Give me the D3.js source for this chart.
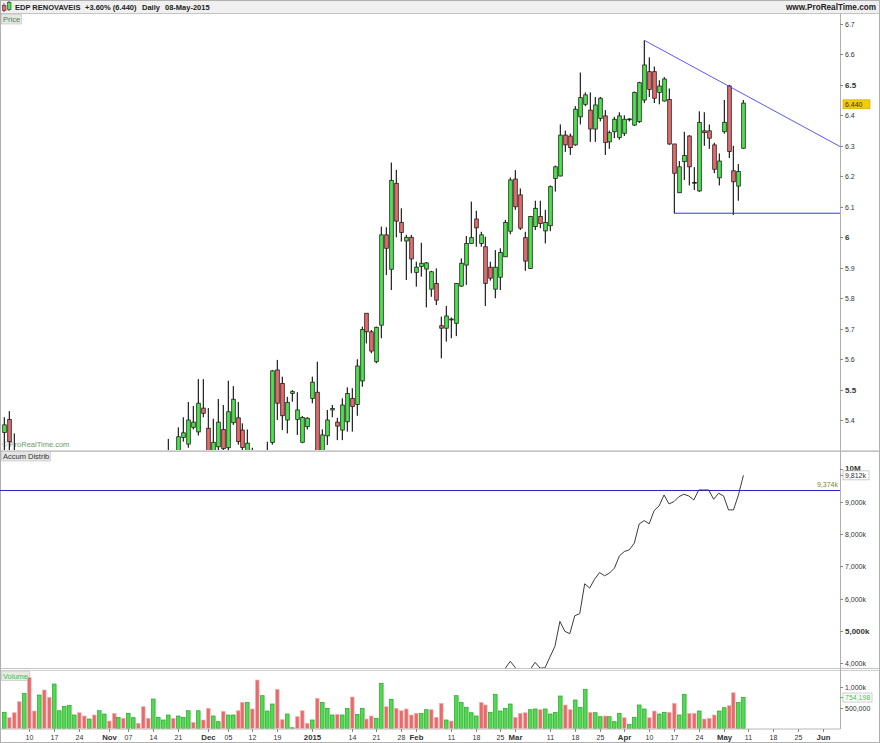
<!DOCTYPE html>
<html><head><meta charset="utf-8">
<script src="https://cdn.jsdelivr.net/npm/d3@7"></script>
<style>body{margin:0;background:#fff}svg{display:block;font-family:"Liberation Sans",Arial,sans-serif}</style>
</head><body><svg id="c" width="880" height="743"></svg>
<script>
// ---------- DATA ----------
const holidays = ["2014-12-25","2014-12-26","2015-01-01","2015-04-03","2015-04-06","2015-05-01"];
const firstDay = "2014-10-03", axisLastDay = "2015-06-05";

const open = [5.36,5.403,5.30,5.27,5.21,5.24,5.16,5.12,5.21,5.15,5.08,5.18,5.20,5.22,5.25,5.27,5.24,5.22,5.25,5.23,
5.26,5.28,5.24,5.21,5.23,5.20,5.22,5.24,5.23,5.18,5.16,5.22,5.24,5.25,5.29,5.27,5.344,5.322,5.377,5.362,
5.44,5.374,5.30,5.313,5.37,5.31,5.392,5.408,5.368,5.30,5.30,5.28,5.20,5.25,5.327,5.565,5.521,5.401,5.488,5.403,
5.328,5.379,5.472,5.492,5.29,5.349,5.434,5.394,5.368,5.395,5.472,5.452,5.529,5.751,5.69,5.592,5.712,6.008,5.895,6.177,
6.049,5.988,6.0,5.885,5.904,5.896,5.83,5.849,5.71,5.702,5.729,5.718,5.84,5.909,5.98,6.06,5.98,5.969,5.902,5.83,
5.869,5.936,6.02,6.191,6.139,5.999,5.898,6.035,6.068,6.021,6.038,6.193,6.201,6.335,6.332,6.303,6.395,6.436,6.417,6.355,
6.39,6.398,6.313,6.346,6.327,6.341,6.388,6.368,6.379,6.45,6.543,6.543,6.475,6.447,6.452,6.306,6.146,6.248,6.332,6.18,
6.152,6.349,6.349,6.303,6.195,6.346,6.496,6.218,6.168,6.292];
const high = [5.41,5.43,5.357,5.28,5.28,5.26,5.19,5.22,5.23,5.17,5.19,5.22,5.25,5.27,5.29,5.28,5.26,5.27,5.26,5.27,
5.29,5.29,5.25,5.25,5.24,5.24,5.26,5.25,5.24,5.20,5.23,5.26,5.28,5.339,5.295,5.377,5.41,5.46,5.447,5.535,
5.535,5.44,5.405,5.47,5.45,5.53,5.512,5.46,5.39,5.37,5.31,5.29,5.28,5.33,5.565,5.598,5.543,5.477,5.499,5.492,
5.414,5.41,5.543,5.592,5.37,5.434,5.45,5.408,5.472,5.508,5.505,5.60,5.707,5.751,5.696,5.707,6.035,6.033,6.245,6.221,
6.095,6.008,6.008,5.92,5.982,5.919,5.89,5.898,5.74,5.775,5.737,5.85,5.931,6.004,6.117,6.087,6.018,6.002,5.92,5.958,
5.964,6.057,6.196,6.22,6.16,6.018,6.07,6.12,6.12,6.09,6.17,6.235,6.37,6.35,6.34,6.43,6.54,6.475,6.475,6.46,
6.46,6.417,6.35,6.395,6.41,6.40,6.39,6.478,6.51,6.646,6.59,6.56,6.515,6.525,6.488,6.306,6.25,6.346,6.335,6.23,
6.413,6.41,6.37,6.31,6.275,6.45,6.50,6.30,6.24,6.45];
const low = [5.30,5.30,5.25,5.20,5.18,5.10,5.08,5.10,5.12,5.06,5.05,5.15,5.18,5.20,5.23,5.22,5.20,5.21,5.21,5.22,
5.24,5.22,5.19,5.20,5.18,5.19,5.21,5.21,5.16,5.14,5.15,5.21,5.23,5.24,5.25,5.26,5.33,5.31,5.37,5.35,
5.41,5.28,5.28,5.30,5.29,5.30,5.385,5.32,5.29,5.28,5.26,5.18,5.19,5.24,5.32,5.401,5.368,5.357,5.461,5.352,
5.325,5.37,5.456,5.26,5.27,5.319,5.41,5.335,5.335,5.363,5.363,5.415,5.51,5.652,5.62,5.587,5.669,5.876,5.827,6.0,
5.986,5.86,5.882,5.838,5.871,5.77,5.805,5.778,5.603,5.658,5.669,5.676,5.838,5.844,5.978,5.969,5.969,5.775,5.858,5.80,
5.827,5.936,6.01,6.09,6.024,5.89,5.896,6.024,6.03,5.98,6.02,6.15,6.20,6.28,6.27,6.30,6.37,6.43,6.313,6.313,
6.38,6.27,6.29,6.325,6.32,6.332,6.38,6.365,6.375,6.44,6.46,6.44,6.436,6.445,6.303,6.079,6.145,6.188,6.17,6.155,
6.149,6.30,6.29,6.21,6.17,6.34,6.26,6.073,6.12,6.29];
const close = [5.385,5.33,5.28,5.22,5.26,5.15,5.12,5.20,5.14,5.10,5.18,5.20,5.23,5.25,5.27,5.24,5.22,5.25,5.23,5.26,
5.28,5.24,5.21,5.23,5.20,5.22,5.24,5.23,5.18,5.16,5.22,5.24,5.26,5.29,5.27,5.346,5.359,5.401,5.394,5.456,
5.423,5.30,5.328,5.394,5.307,5.428,5.469,5.33,5.311,5.325,5.29,5.20,5.25,5.29,5.562,5.456,5.415,5.459,5.494,5.434,
5.409,5.407,5.525,5.28,5.352,5.401,5.439,5.381,5.45,5.488,5.445,5.578,5.698,5.69,5.627,5.705,6.008,5.964,6.186,6.053,
6.016,6.0,5.929,5.902,5.915,5.916,5.887,5.794,5.702,5.742,5.732,5.849,5.915,5.98,5.999,6.031,6.008,5.849,5.866,5.902,
5.95,6.049,6.188,6.10,6.03,5.922,6.068,6.095,6.045,6.049,6.166,6.231,6.335,6.303,6.294,6.42,6.458,6.467,6.355,6.434,
6.456,6.311,6.343,6.387,6.398,6.387,6.388,6.475,6.507,6.565,6.485,6.456,6.496,6.519,6.306,6.21,6.231,6.268,6.231,6.18,
6.377,6.343,6.325,6.223,6.25,6.377,6.281,6.182,6.216,6.44];
// volume in thousands of shares
const volume = [396,265,386,653,857,1245,427,815,937,760,1082,434,541,565,330,386,306,233,330,434,
354,184,371,274,250,371,265,129,532,250,718,274,209,330,250,306,274,434,153,434,
209,493,306,168,419,330,330,434,638,638,476,1180,799,427,597,954,217,354,20,289,
434,129,209,735,638,493,330,347,330,493,767,347,493,233,306,250,1099,532,711,493,
434,476,330,371,371,459,459,274,614,209,184,799,638,517,386,306,638,573,396,833,
427,493,597,274,371,386,459,476,459,476,354,396,791,573,459,694,509,954,396,386,
289,306,289,168,371,265,105,274,573,476,265,427,354,396,396,614,330,833,371,371,
427,233,250,330,427,507,556,871,638,754.198];
// accumulation / distribution (thousands)
const accum = [2650,2600,2560,2480,2560,2400,2330,2450,2380,2300,2480,2520,2580,2620,2680,2640,2600,2650,2620,2680,
2720,2660,2610,2650,2600,2640,2680,2660,2560,2520,2640,2680,2720,2760,2730,2800,2830,2880,2860,2930,
2900,2800,2840,2900,2820,2910,2960,2870,2800,2850,2810,2600,2720,2800,2990,2860,2800,2860,2870,2800,
2780,2760,2850,2640,2720,2790,2830,2780,2850,2920,2860,3000,3120,3080,3010,3090,3400,3320,3520,3380,
3340,3300,3220,3240,3270,3340,3300,3200,3180,3240,3220,3420,3520,3600,3610,3660,3640,3450,3520,3640,
3720,3850,4062,3870,3750,3650,3800,4031,3850,3860,4197,4525,5296,4988,4917,5472,5534,6460,6327,6600,
6809,6707,6790,6944,7324,7457,7509,7716,8312,8414,8312,8722,8867,9207,8929,9000,9154,9228,9176,9052,
9361,9361,9361,9074,9259,9176,8744,8744,9207,9812];
const accumRef = 9374;
const lastClose = 6.440, lastAccum = 9812, lastVolume = 754198;

const priceTicks = [6.7,6.6,6.5,6.4,6.3,6.2,6.1,6.0,5.9,5.8,5.7,5.6,5.5,5.4];
const priceTickLabels = ["6.7","6.6","6.5","6.4","6.3","6.2","6.1","6","5.9","5.8","5.7","5.6","5.5","5.4"];
const accumTicks = [10000,9000,8000,7000,6000,5000,4000];
const accumTickLabels = ["10M","9,000k","8,000k","7,000k","6,000k","5,000k","4,000k"];
const volTicks = [1000,500];
const volTickLabels = ["1,000k","500,000"];
const tickDates = ["2014-10-10","2014-10-17","2014-10-24","2014-11-03","2014-11-07","2014-11-14","2014-11-21","2014-12-01","2014-12-05","2014-12-12","2014-12-19","2015-01-02","2015-01-14","2015-01-21","2015-01-28","2015-02-02","2015-02-11","2015-02-18","2015-02-25","2015-03-02","2015-03-11","2015-03-18","2015-03-25","2015-04-01","2015-04-10","2015-04-17","2015-04-24","2015-05-04","2015-05-11","2015-05-18","2015-05-25","2015-06-01"];
const tickLabels = ["10","17","24","Nov","07","14","21","Dec","05","12","19","2015","14","21","28","Feb","11","18","25","Mar","11","18","25","Apr","10","17","24","May","11","18","25","Jun"];
// drawn lines (anchored on bars)
const resistance = [{i:129,p:6.646},{i:146,p:6.496}];
const support = {i:135,p:6.079};

// ---------- BUILD ----------
function tradingDays(start,end,hol){
  const out=[]; const d=new Date(start+"T12:00:00Z"); const e=new Date(end+"T12:00:00Z");
  while(d<=e){const wd=d.getUTCDay();const s=d.toISOString().slice(0,10);
    if(wd!==0&&wd!==6&&!hol.includes(s)) out.push(s); d.setUTCDate(d.getUTCDate()+1);}
  return out;
}
const days = tradingDays(firstDay, axisLastDay, holidays);
const bars = close.map((c,i)=>({i,date:days[i],o:open[i],h:high[i],l:low[i],c,v:volume[i],a:accum[i],
  up: i===0 ? c>=open[i] : c>=close[i-1]}));

const W=880,H=743, plotR=840;
const x = d3.scaleLinear().domain([0,149]).range([4.4,743.4]);
const yP = d3.scaleLinear().domain([5.4,6.7]).range([420.3,23.8]);
const yA = d3.scaleLinear().domain([4000,10000]).range([663.3,469.3]);
const yV = d3.scaleLinear().domain([0,1000]).range([728.6,687.4]);

const svg = d3.select("#c");
const defs = svg.append("defs");
function clip(id,y0,y1){defs.append("clipPath").attr("id",id).append("rect").attr("x",0).attr("y",y0).attr("width",plotR).attr("height",y1-y0);}
clip("cp",13.5,450); clip("ca",452.5,668); clip("cv",670.5,728.6);

// background frame
svg.append("rect").attr("x",0).attr("y",0).attr("width",W).attr("height",H).attr("fill","#fff");
svg.append("rect").attr("x",0).attr("y",0).attr("width",W).attr("height",13).attr("fill","#f0f0f0");
svg.append("line").attr("x1",0).attr("x2",W).attr("y1",13.5).attr("y2",13.5).attr("stroke","#c4c4c4");
[[450.5,"#d8d8d8"],[451.5,"#c4c4c4"],[668.5,"#c4c4c4"],[670.5,"#d0d0d0"]].forEach(([yy,c])=>
  svg.append("line").attr("x1",0).attr("x2",W).attr("y1",yy).attr("y2",yy).attr("stroke",c));
svg.append("line").attr("x1",plotR+0.5).attr("x2",plotR+0.5).attr("y1",13.5).attr("y2",729).attr("stroke","#b0b0b0");
svg.append("line").attr("x1",0).attr("x2",plotR).attr("y1",729).attr("y2",729).attr("stroke","#b8b8b8");
svg.append("rect").attr("x",0.5).attr("y",0.5).attr("width",W-1).attr("height",H-1).attr("fill","none").attr("stroke","#b0b0b0");

// header
const hdr = svg.append("g");
hdr.append("line").attr("x1",4).attr("x2",4).attr("y1",3).attr("y2",12).attr("stroke","#555");
hdr.append("rect").attr("x",2.5).attr("y",5.5).attr("width",3.5).attr("height",5).attr("fill","#e86a6a").attr("stroke","#333").attr("stroke-width",0.6);
hdr.append("line").attr("x1",9).attr("x2",9).attr("y1",1).attr("y2",11).attr("stroke","#555");
hdr.append("rect").attr("x",7.5).attr("y",2.5).attr("width",3.5).attr("height",7).attr("fill","#4ee44e").attr("stroke","#333").attr("stroke-width",0.6);
[["EDP RENOVAVEIS",15],["+3.60% (6.440)",85],["Daily",142],["08-May-2015",165]].forEach(([t,xx])=>
  hdr.append("text").attr("x",xx).attr("y",9.5).attr("font-size",7.5).attr("font-weight","bold").attr("fill","#222").text(t));
hdr.append("text").attr("x",876).attr("y",9.5).attr("text-anchor","end").attr("font-size",8.2).attr("font-weight","bold").attr("fill","#222").text("www.ProRealTime.com");

// panel labels
function tag(xx,yy,w,t,fill,col){
  svg.append("rect").attr("x",xx+0.5).attr("y",yy+0.5).attr("width",w).attr("height",9.5).attr("fill",fill).attr("stroke","#c0c0c0").attr("stroke-width",0.6);
  svg.append("text").attr("x",xx+2).attr("y",yy+8).attr("font-size",7.5).attr("fill",col).text(t);
}
tag(1,14,20,"Price","#e2e8e2","#5c7a5c");
tag(1,451,49,"Accum Distrib","#e6e6e6","#333");
tag(1,670.5,28,"Volume","#e4ece4","#44c044");
svg.append("text").attr("x",2).attr("y",447).attr("font-size",7.5).attr("fill","#6a9a6a").text("\u00a9 ProRealTime.com");

// ---------- PRICE ----------
const gP = svg.append("g").attr("clip-path","url(#cp)");
const cg = gP.selectAll("g.c").data(bars).join("g");
cg.append("line").attr("x1",d=>Math.round(x(d.i))-0.5).attr("x2",d=>Math.round(x(d.i))-0.5)
  .attr("y1",d=>yP(d.h)).attr("y2",d=>yP(d.l)).attr("stroke","#c6c6c6").attr("stroke-width",1);
cg.append("line").attr("x1",d=>Math.round(x(d.i))+0.5).attr("x2",d=>Math.round(x(d.i))+0.5)
  .attr("y1",d=>yP(d.h)).attr("y2",d=>yP(d.l)).attr("stroke","#2a2a2a").attr("stroke-width",1);
cg.append("rect").attr("x",d=>Math.round(x(d.i))-1.3).attr("width",3.6)
  .attr("y",d=>yP(Math.max(d.o,d.c))).attr("height",d=>Math.max(0.8,Math.abs(yP(d.o)-yP(d.c))))
  .attr("fill",d=>Math.abs(d.o-d.c)<0.002?"#222":(d.c>=d.o?"#4ee44e":"#e86a6a")).attr("stroke","#1e1e1e").attr("stroke-width",0.8);

// trend lines
const slope = (resistance[1].p-resistance[0].p)/(resistance[1].i-resistance[0].i);
const iEnd = x.invert(plotR);
gP.append("line").attr("x1",x(resistance[0].i)).attr("y1",yP(resistance[0].p))
  .attr("x2",x(iEnd)).attr("y2",yP(resistance[0].p+slope*(iEnd-resistance[0].i)))
  .attr("stroke","#5a5af5").attr("stroke-width",1);
gP.append("line").attr("x1",x(support.i)).attr("x2",plotR).attr("y1",yP(support.p)).attr("y2",yP(support.p))
  .attr("stroke","#3838c8").attr("stroke-width",1);

// price axis
const axP = svg.append("g");
priceTicks.forEach((t,k)=>{
  const yy=Math.round(yP(t))+0.5, bold=/^(6\.5|6|5\.5)$/.test(priceTickLabels[k]);
  axP.append("line").attr("x1",plotR).attr("x2",plotR+3).attr("y1",yy).attr("y2",yy).attr("stroke","#888");
  axP.append("text").attr("x",plotR+5).attr("y",yy+2.6).attr("font-size",bold?8:7).attr("font-weight",bold?"bold":"normal").attr("fill","#333").text(priceTickLabels[k]);
});
const yl = yP(lastClose)+1.2;
axP.append("rect").attr("x",843).attr("y",yl-4.5).attr("width",27).attr("height",9).attr("fill","#f2cc00").attr("stroke","#caa400").attr("stroke-width",0.6);
axP.append("text").attr("x",845).attr("y",yl+2.6).attr("font-size",7).attr("fill","#333").text(d3.format(".3f")(lastClose));

// ---------- ACCUM ----------
const gA = svg.append("g").attr("clip-path","url(#ca)");
gA.append("line").attr("x1",0).attr("x2",plotR).attr("y1",Math.round(yA(accumRef))+0.5).attr("y2",Math.round(yA(accumRef))+0.5).attr("stroke","#2828c8");
gA.append("path").datum(bars).attr("fill","none").attr("stroke","#3c3c3c").attr("stroke-width",1)
  .attr("d",d3.line().x(d=>x(d.i)).y(d=>yA(d.a)));
svg.append("text").attr("x",838).attr("y",yA(accumRef)-2.5).attr("text-anchor","end").attr("font-size",7).attr("fill","#7a8a2a").text(d3.format(",")(accumRef)+"k");
const axA = svg.append("g");
accumTicks.forEach((t,k)=>{
  const yy=Math.round(yA(t))+0.5, bold=(accumTickLabels[k]==="10M"||accumTickLabels[k]==="5,000k");
  axA.append("line").attr("x1",plotR).attr("x2",plotR+3).attr("y1",yy).attr("y2",yy).attr("stroke","#888");
  axA.append("text").attr("x",plotR+5).attr("y",(k===0?yy-1.5:yy)+2.6).attr("font-size",bold?8:7).attr("font-weight",bold?"bold":"normal").attr("fill","#333").text(accumTickLabels[k]);
});
const ya = yA(lastAccum);
axA.append("line").attr("x1",plotR).attr("x2",plotR+3).attr("y1",ya).attr("y2",ya).attr("stroke","#888");
axA.append("rect").attr("x",843).attr("y",ya-4.5).attr("width",26).attr("height",9).attr("fill","#fff").attr("stroke","#aaa").attr("stroke-width",0.6);
axA.append("text").attr("x",845).attr("y",ya+2.6).attr("font-size",7).attr("fill","#333").text(d3.format(",")(lastAccum)+"k");

// ---------- VOLUME ----------
const gV = svg.append("g").attr("clip-path","url(#cv)");
gV.selectAll("rect").data(bars).join("rect")
  .attr("x",d=>Math.round(x(d.i))-1.5).attr("width",3.6)
  .attr("y",d=>yV(d.v)).attr("height",d=>yV(0)-yV(d.v))
  .attr("fill",d=>d.up?"#52d852":"#e66c6c").attr("stroke",d=>d.up?"#27a527":"#f3b0b0").attr("stroke-width",0.7);
const axV = svg.append("g");
volTicks.forEach((t,k)=>{
  const yy=Math.round(yV(t))+0.5;
  axV.append("line").attr("x1",plotR).attr("x2",plotR+3).attr("y1",yy).attr("y2",yy).attr("stroke","#888");
  axV.append("text").attr("x",plotR+5).attr("y",yy+2.6).attr("font-size",7).attr("fill","#333").text(volTickLabels[k]);
});
const yv = yV(lastVolume/1000);
axV.append("line").attr("x1",plotR).attr("x2",plotR+3).attr("y1",yv).attr("y2",yv).attr("stroke","#44c044");
axV.append("rect").attr("x",843).attr("y",yv-4.5).attr("width",29).attr("height",9).attr("fill","#fff").attr("stroke","#aaa").attr("stroke-width",0.6);
axV.append("text").attr("x",845).attr("y",yv+2.6).attr("font-size",7).attr("fill","#44c044").text(d3.format(",")(lastVolume));

// ---------- X AXIS ----------
const axX = svg.append("g");
tickDates.forEach((dt,k)=>{
  const idx = days.indexOf(dt); const xx = Math.round(x(idx))+0.5;
  const bold = /^[A-Z]|^\d{4}$/.test(tickLabels[k]);
  axX.append("line").attr("x1",xx).attr("x2",xx).attr("y1",729).attr("y2",732).attr("stroke","#888");
  axX.append("text").attr("x",xx).attr("y",739.5).attr("text-anchor","middle").attr("font-size",bold?7.8:7)
    .attr("font-weight",bold?"bold":"normal").attr("fill","#333").text(tickLabels[k]);
});
</script></body></html>
